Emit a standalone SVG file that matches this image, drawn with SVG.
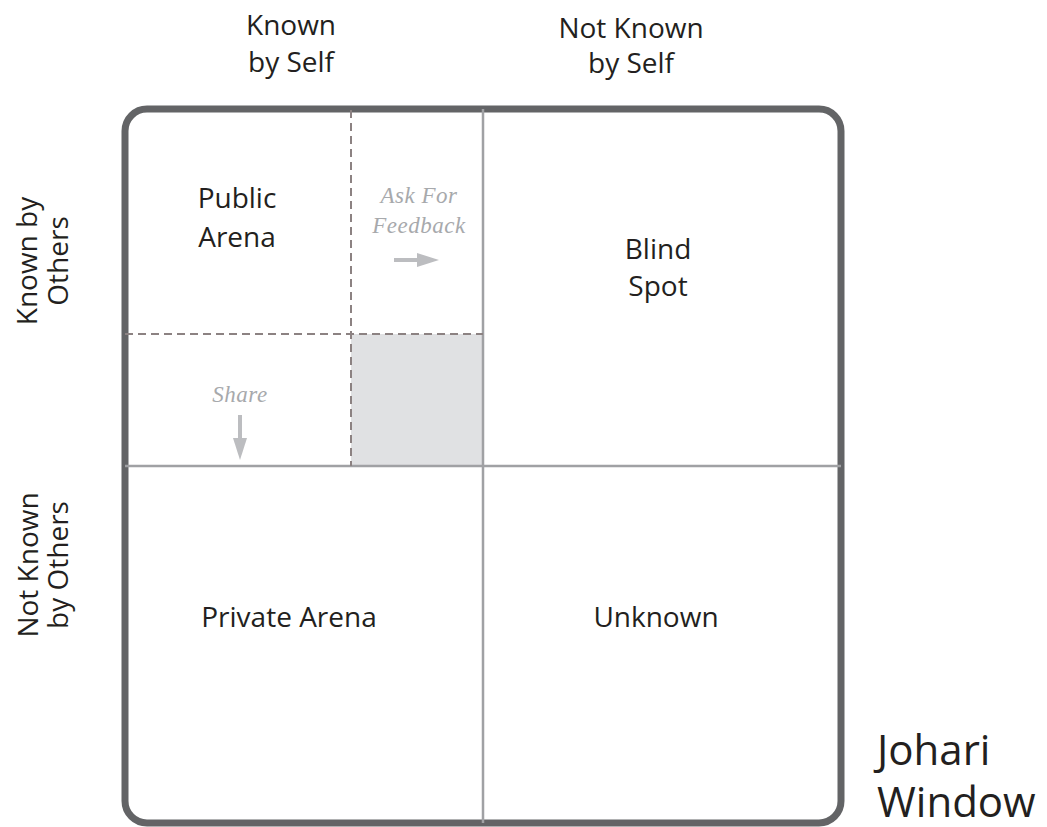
<svg xmlns="http://www.w3.org/2000/svg" width="1047" height="827" viewBox="0 0 1047 827">
<style>
.lbl{font-family:"Open Sans","Noto Sans",sans-serif;font-size:28px;fill:#231f20;text-anchor:middle}
.big{font-family:"Open Sans","Noto Sans",sans-serif;font-size:42px;fill:#231f20}
.hint{font-family:"Liberation Serif",serif;font-style:italic;font-size:23px;fill:#a7a9ac;text-anchor:middle;letter-spacing:0.5px}
.solid{stroke:#a0a1a4;stroke-width:2.5;fill:none}
.dash{stroke:#8c8282;stroke-width:2;stroke-dasharray:8 5;fill:none}
.arrow{stroke:#bcbdc0;stroke-width:4;fill:none}
.head{fill:#bcbdc0}
</style>
<rect x="0" y="0" width="1047" height="827" fill="#fff"/>
<g id="frame">
<rect x="351" y="334" width="132" height="132" fill="#e0e1e3"/>
<rect x="125" y="109" width="716" height="714" rx="22" ry="22" fill="none" stroke="#636466" stroke-width="7"/>
</g>
<g id="connectors">
<line class="solid" x1="483" y1="109" x2="483" y2="823"/>
<line class="solid" x1="125" y1="466" x2="841" y2="466"/>
<line class="dash" x1="351" y1="110" x2="351" y2="466"/>
<line class="dash" x1="125" y1="334" x2="483" y2="334"/>
<line class="arrow" x1="394" y1="260" x2="422" y2="260"/>
<polygon class="head" points="417,253 439,260 417,267"/>
<line class="arrow" x1="240" y1="415" x2="240" y2="442"/>
<polygon class="head" points="233,438 247,438 240,460"/>
</g>
<g id="header-known-self"><text class="lbl" x="291" y="35">Known</text><text class="lbl" x="291" y="72">by Self</text></g>
<g id="header-not-known-self"><text class="lbl" x="631" y="38">Not Known</text><text class="lbl" x="631" y="73">by Self</text></g>
<g id="side-known-others" transform="translate(37,261) rotate(-90)"><text class="lbl" x="0" y="0">Known by</text><text class="lbl" x="0" y="31">Others</text></g>
<g id="side-not-known-others" transform="translate(38,565) rotate(-90)"><text class="lbl" x="0" y="0">Not Known</text><text class="lbl" x="0" y="30">by Others</text></g>
<g id="public-arena"><text class="lbl" x="237" y="208">Public</text><text class="lbl" x="237" y="247">Arena</text></g>
<g id="ask-feedback"><text class="hint" x="419" y="203">Ask For</text><text class="hint" x="419" y="233">Feedback</text></g>
<g id="share"><text class="hint" x="240" y="402">Share</text></g>
<g id="blind-spot"><text class="lbl" x="658" y="259">Blind</text><text class="lbl" x="658" y="296">Spot</text></g>
<g id="private-arena"><text class="lbl" x="289" y="627">Private Arena</text></g>
<g id="unknown"><text class="lbl" x="656" y="627">Unknown</text></g>
<g id="title"><text class="big" x="877" y="765">Johari</text><text class="big" x="877" y="817">Window</text></g>
</svg>
